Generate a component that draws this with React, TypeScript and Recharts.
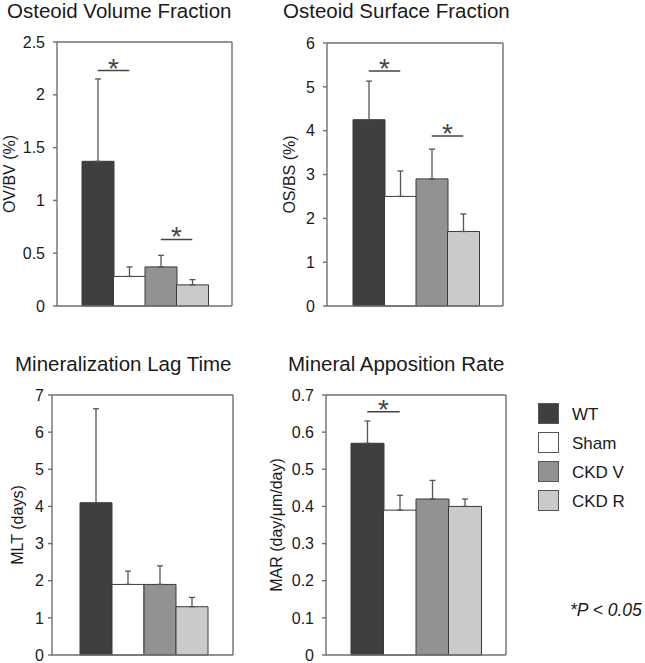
import React from 'react';
import {
  BarChart,
  Bar,
  XAxis,
  YAxis,
  Cell,
  ErrorBar,
  ReferenceLine,
} from 'recharts';

// groups shown in every panel
const groups = ['WT', 'Sham', 'CKD V', 'CKD R'];
const groupColors = ['#3f3f41', '#ffffff', '#929295', '#c9cacc'];

// Osteoid volume fraction (OV/BV %)
const ovbvMean = [1.37, 0.28, 0.37, 0.2];
const ovbvSd = [0.78, 0.09, 0.11, 0.05];
const ovbvTicks = [0, 0.5, 1, 1.5, 2, 2.5];

// Osteoid surface fraction (OS/BS %)
const osbsMean = [4.25, 2.5, 2.9, 1.7];
const osbsSd = [0.88, 0.58, 0.68, 0.4];
const osbsTicks = [0, 1, 2, 3, 4, 5, 6];

// Mineralization lag time (days)
const mltMean = [4.1, 1.9, 1.9, 1.3];
const mltSd = [2.53, 0.36, 0.5, 0.25];
const mltTicks = [0, 1, 2, 3, 4, 5, 6, 7];

// Mineral apposition rate
const marMean = [0.57, 0.39, 0.42, 0.4];
const marSd = [0.06, 0.04, 0.05, 0.02];
const marTicks = [0, 0.1, 0.2, 0.3, 0.4, 0.5, 0.6, 0.7];

// significance brackets: [from, to, height]
const ovbvSig: [string, string, number][] = [['WT', 'Sham', 2.23], ['CKD V', 'CKD R', 0.63]];
const osbsSig: [string, string, number][] = [['WT', 'Sham', 5.36], ['CKD V', 'CKD R', 3.88]];
const mltSig: [string, string, number][] = [];
const marSig: [string, string, number][] = [['WT', 'Sham', 0.655]];

const FONT = '"Liberation Sans", Arial, sans-serif';
const AXIS = '#6f6f6f';

const makeRows = (mean: number[], sd: number[]) =>
  groups.map((g, i) => ({ name: g, value: mean[i], err: [0, sd[i]] }));

interface PanelProps {
  title: string;
  yLabel: string;
  mean: number[];
  sd: number[];
  ticks: number[];
  sig: [string, string, number][];
  left: number;
  top: number;
  width: number;
  height: number;
  margin: { top: number; right: number; bottom: number; left: number };
  axisWidth: number;
  padding: { left: number; right: number };
  tickMargin: number;
  labelX: number;
  titleX: number;
  titleTop: number;
}

const Panel: React.FC<PanelProps> = (p) => {
  const rows = makeRows(p.mean, p.sd);
  const plotH = p.height - p.margin.top - p.margin.bottom;
  const labelY = p.margin.top + plotH / 2;
  const yMax = p.ticks[p.ticks.length - 1];
  return (
    <>
      <div
        style={{
          position: 'absolute',
          left: p.titleX,
          top: p.titleTop,
          fontSize: 20.5,
          lineHeight: 1,
          fontFamily: FONT,
          color: '#1a1a1a',
          whiteSpace: 'nowrap',
        }}
      >
        {p.title}
      </div>
      <div style={{ position: 'absolute', left: p.left, top: p.top }}>
        <BarChart
          width={p.width}
          height={p.height}
          data={rows}
          margin={p.margin}
          barCategoryGap={0}
          style={{ fontFamily: FONT }}
        >
          <XAxis
            dataKey="name"
            height={1}
            tick={false}
            tickLine={false}
            padding={p.padding}
            axisLine={{ stroke: AXIS, strokeWidth: 1.4 }}
          />
          <XAxis
            xAxisId="top"
            dataKey="name"
            orientation="top"
            height={1}
            tick={false}
            tickLine={false}
            padding={p.padding}
            axisLine={{ stroke: AXIS, strokeWidth: 1.4 }}
          />
          <YAxis
            width={p.axisWidth}
            domain={[0, yMax]}
            ticks={p.ticks}
            interval={0}
            tickSize={4}
            tickMargin={p.tickMargin}
            tick={{ fontSize: 16, fill: '#1a1a1a', fontFamily: FONT }}
            tickLine={{ stroke: AXIS, strokeWidth: 1.4 }}
            axisLine={{ stroke: AXIS, strokeWidth: 1.4 }}
            label={() => (
              <text
                x={p.labelX}
                y={labelY}
                dy="0.35em"
                textAnchor="middle"
                fontSize={16}
                fill="#1a1a1a"
                fontFamily={FONT}
                transform={`rotate(-90, ${p.labelX}, ${labelY})`}
              >
                {p.yLabel}
              </text>
            )}
          />
          <YAxis
            yAxisId="right"
            orientation="right"
            domain={[0, yMax]}
            ticks={p.ticks}
            width={1}
            tick={false}
            tickLine={false}
            axisLine={{ stroke: AXIS, strokeWidth: 1.4 }}
          />
          <Bar dataKey="value" stroke="#3a3a3a" strokeWidth={1} isAnimationActive={false}>
            {rows.map((r, i) => (
              <Cell key={r.name} fill={groupColors[i]} />
            ))}
            <ErrorBar dataKey="err" width={3} stroke="#555" strokeWidth={1.3} direction="y" isAnimationActive={false} />
          </Bar>
          {p.sig.map(([a, b, y]) => (
            <ReferenceLine
              key={a + b}
              segment={[
                { x: a, y },
                { x: b, y },
              ]}
              stroke="#444"
              strokeWidth={1.6}
              label={(lp: any) => {
                const vb = lp.viewBox || {};
                const cx = (vb.x ?? 0) + (vb.width ?? 0) / 2;
                return (
                  <text x={cx} y={(vb.y ?? 0) + 7} textAnchor="middle" fontSize={28} fill="#444" fontFamily={FONT}>
                    *
                  </text>
                );
              }}
            />
          ))}
        </BarChart>
      </div>
    </>
  );
};

const legendTops = [403, 432, 461, 490];

export default function App() {
  return (
    <div style={{ position: 'absolute', left: 0, top: 0, width: 645, height: 663, background: '#fff', fontFamily: FONT }}>
      <Panel
        title="Osteoid Volume Fraction"
        yLabel="OV/BV (%)"
        mean={ovbvMean}
        sd={ovbvSd}
        ticks={ovbvTicks}
        sig={ovbvSig}
        left={0}
        top={30}
        width={240}
        height={290}
        margin={{ top: 11, right: 7, bottom: 13, left: 0 }}
        axisWidth={57}
        padding={{ left: 25, right: 24 }}
        tickMargin={8}
        labelX={9}
        titleX={7}
        titleTop={1}
      />
      <Panel
        title="Osteoid Surface Fraction"
        yLabel="OS/BS (%)"
        mean={osbsMean}
        sd={osbsSd}
        ticks={osbsTicks}
        sig={osbsSig}
        left={262}
        top={30}
        width={248}
        height={290}
        margin={{ top: 12, right: 6, bottom: 13, left: 0 }}
        axisWidth={65}
        padding={{ left: 26, right: 24 }}
        tickMargin={8}
        labelX={27}
        titleX={283}
        titleTop={1}
      />
      <Panel
        title="Mineralization Lag Time"
        yLabel="MLT (days)"
        mean={mltMean}
        sd={mltSd}
        ticks={mltTicks}
        sig={mltSig}
        left={0}
        top={380}
        width={240}
        height={283}
        margin={{ top: 14, right: 6, bottom: 7, left: 0 }}
        axisWidth={52}
        padding={{ left: 28, right: 25 }}
        tickMargin={4}
        labelX={17}
        titleX={15}
        titleTop={354}
      />
      <Panel
        title="Mineral Apposition Rate"
        yLabel="MAR (day/μm/day)"
        mean={marMean}
        sd={marSd}
        ticks={marTicks}
        sig={marSig}
        left={262}
        top={380}
        width={248}
        height={283}
        margin={{ top: 14, right: 3, bottom: 7, left: 0 }}
        axisWidth={64}
        padding={{ left: 25, right: 25 }}
        tickMargin={8}
        labelX={14}
        titleX={288}
        titleTop={354}
      />
      {groups.map((g, i) => (
        <React.Fragment key={g}>
          <div
            style={{
              position: 'absolute',
              left: 538,
              top: legendTops[i],
              width: 19,
              height: 19,
              background: groupColors[i],
              border: '1px solid #555',
            }}
          />
          <div
            style={{
              position: 'absolute',
              left: 572,
              top: legendTops[i] + 3,
              fontSize: 17,
              lineHeight: 1,
              color: '#1a1a1a',
              whiteSpace: 'nowrap',
            }}
          >
            {g}
          </div>
        </React.Fragment>
      ))}
      <div
        style={{
          position: 'absolute',
          left: 570,
          top: 602,
          fontSize: 17.5,
          lineHeight: 1,
          fontStyle: 'italic',
          color: '#1a1a1a',
          whiteSpace: 'nowrap',
        }}
      >
        *P &lt; 0.05
      </div>
    </div>
  );
}
